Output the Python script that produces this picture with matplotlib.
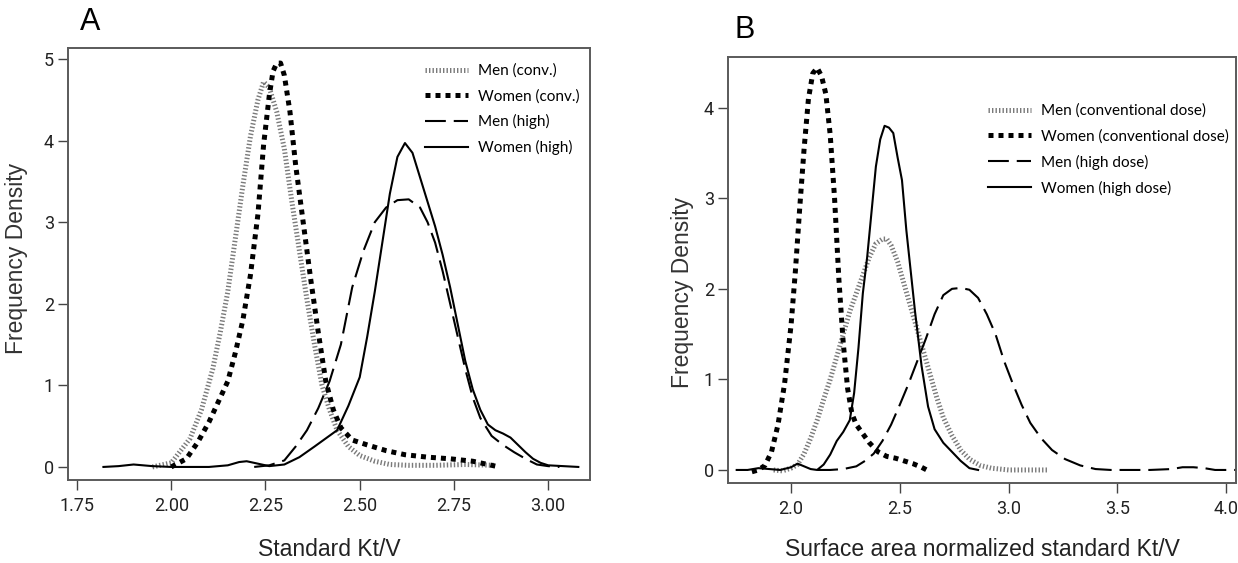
import matplotlib
matplotlib.use("Agg")
import matplotlib.pyplot as plt

# Panneau A : Kt/V standard
men_conv_a_x = [1.95, 2.00, 2.05, 2.08, 2.11, 2.13, 2.15, 2.17, 2.19, 2.21, 2.23, 2.245, 2.26, 2.28, 2.30,
                2.32, 2.34, 2.36, 2.38, 2.40, 2.42, 2.44, 2.47, 2.50, 2.54, 2.58, 2.63, 2.70, 2.78, 2.86]
men_conv_a_y = [0.0, 0.05, 0.35, 0.7, 1.2, 1.65, 2.15, 2.8, 3.45, 4.05, 4.5, 4.72, 4.65, 4.35, 3.9,
                3.25, 2.65, 2.05, 1.5, 1.0, 0.7, 0.45, 0.25, 0.14, 0.07, 0.03, 0.02, 0.02, 0.03, 0.02]

women_conv_a_x = [2.00, 2.04, 2.07, 2.10, 2.13, 2.15, 2.17, 2.19, 2.21, 2.23, 2.245, 2.26, 2.27, 2.28, 2.29,
                  2.30, 2.315, 2.33, 2.35, 2.37, 2.39, 2.41, 2.43, 2.45, 2.48, 2.52, 2.57, 2.62, 2.68, 2.74,
                  2.80, 2.87]
women_conv_a_y = [0.0, 0.1, 0.3, 0.55, 0.85, 1.05, 1.4, 1.8, 2.35, 3.1, 3.95, 4.55, 4.85, 4.95, 4.95,
                  4.8, 4.35, 3.7, 3.0, 2.3, 1.65, 1.05, 0.7, 0.48, 0.33, 0.27, 0.2, 0.15, 0.12, 0.1,
                  0.07, 0.0]

men_high_a_x = [2.22, 2.26, 2.30, 2.33, 2.36, 2.39, 2.42, 2.45, 2.48, 2.51, 2.54, 2.57, 2.60, 2.63, 2.66,
                2.68, 2.70, 2.72, 2.74, 2.76, 2.78, 2.80, 2.82, 2.85, 2.88, 2.91, 2.94, 2.97, 3.00, 3.03]
men_high_a_y = [0.0, 0.02, 0.08, 0.25, 0.45, 0.72, 1.05, 1.5, 2.2, 2.65, 3.0, 3.18, 3.27, 3.28, 3.18,
                3.0, 2.75, 2.4, 2.0, 1.6, 1.2, 0.85, 0.6, 0.38, 0.27, 0.18, 0.1, 0.03, 0.01, 0.0]

women_high_a_x = [1.82, 1.86, 1.90, 1.95, 2.00, 2.05, 2.10, 2.15, 2.18, 2.20, 2.23, 2.26, 2.30, 2.34, 2.38,
                  2.41, 2.44, 2.47, 2.50, 2.52, 2.54, 2.56, 2.58, 2.60, 2.62, 2.64, 2.66, 2.68, 2.70, 2.72,
                  2.74, 2.76, 2.78, 2.80, 2.82, 2.84, 2.86, 2.88, 2.90, 2.92, 2.94, 2.96, 2.98, 3.00, 3.04,
                  3.08]
women_high_a_y = [0.0, 0.01, 0.03, 0.01, 0.0, 0.0, 0.0, 0.02, 0.06, 0.07, 0.04, 0.01, 0.03, 0.12, 0.25,
                  0.35, 0.45, 0.75, 1.1, 1.6, 2.15, 2.75, 3.35, 3.8, 3.97, 3.85, 3.55, 3.25, 2.95, 2.6,
                  2.2, 1.75, 1.3, 0.95, 0.7, 0.52, 0.45, 0.41, 0.36, 0.27, 0.18, 0.1, 0.05, 0.02, 0.01,
                  0.0]

# Panneau B : Kt/V standard normalisé par la surface
men_conv_b_x = [1.92, 1.96, 2.00, 2.03, 2.06, 2.09, 2.12, 2.15, 2.18, 2.21, 2.24, 2.27, 2.30, 2.33, 2.36,
                2.39, 2.42, 2.44, 2.46, 2.49, 2.52, 2.55, 2.58, 2.61, 2.64, 2.67, 2.70, 2.74, 2.78, 2.82,
                2.87, 2.92, 3.00, 3.10, 3.18]
men_conv_b_y = [0.0, -0.01, 0.02, 0.06, 0.18, 0.35, 0.55, 0.78, 1.0, 1.25, 1.5, 1.75, 1.95, 2.15, 2.35,
                2.5, 2.55, 2.55, 2.48, 2.3, 2.05, 1.8, 1.55, 1.3, 1.05, 0.8, 0.58, 0.38, 0.22, 0.12,
                0.05, 0.02, 0.0, 0.0, 0.0]

women_conv_b_x = [1.82, 1.85, 1.88, 1.91, 1.94, 1.97, 2.00, 2.02, 2.04, 2.06, 2.08, 2.10, 2.12, 2.14, 2.16,
                  2.18, 2.20, 2.22, 2.24, 2.26, 2.28, 2.30, 2.33, 2.36, 2.40, 2.44, 2.48, 2.52, 2.56, 2.60,
                  2.64]
women_conv_b_y = [-0.02, 0.0, 0.05, 0.2, 0.5, 0.95, 1.6, 2.2, 2.9, 3.55, 4.1, 4.38, 4.44, 4.35, 4.15,
                  3.7, 3.0, 2.1, 1.4, 0.9, 0.62, 0.5, 0.4, 0.3, 0.2, 0.15, 0.13, 0.1, 0.07, 0.03,
                  -0.02]

men_high_b_x = [2.12, 2.18, 2.24, 2.30, 2.34, 2.38, 2.42, 2.46, 2.50, 2.54, 2.58, 2.62, 2.66, 2.70, 2.74,
                2.78, 2.82, 2.86, 2.90, 2.94, 2.98, 3.02, 3.06, 3.10, 3.15, 3.20, 3.26, 3.33, 3.40, 3.47,
                3.55, 3.65, 3.75, 3.80, 3.85, 3.90, 3.95, 4.00, 4.05]
men_high_b_y = [0.0, 0.0, 0.01, 0.04, 0.1, 0.18, 0.32, 0.5, 0.72, 0.95, 1.2, 1.45, 1.72, 1.93, 2.0,
                2.01, 1.99, 1.9, 1.72, 1.5, 1.2, 0.95, 0.72, 0.52, 0.35, 0.22, 0.12, 0.05, 0.01, 0.0,
                0.0, 0.0, 0.01, 0.03, 0.03, 0.02, 0.0, 0.0, 0.0]

women_high_b_x = [1.75, 1.80, 1.85, 1.90, 1.95, 2.00, 2.03, 2.06, 2.09, 2.12, 2.15, 2.18, 2.21, 2.24, 2.27,
                  2.29, 2.31, 2.33, 2.35, 2.37, 2.39, 2.41, 2.43, 2.45, 2.47, 2.49, 2.51, 2.53, 2.55, 2.57,
                  2.60, 2.63, 2.66, 2.70, 2.74, 2.78, 2.82, 2.86]
women_high_b_y = [0.0, 0.0, 0.02, 0.01, 0.0, 0.03, 0.07, 0.04, 0.01, 0.0, 0.06, 0.17, 0.32, 0.42, 0.55,
                  0.85, 1.35, 1.95, 2.35, 2.85, 3.35, 3.65, 3.8, 3.78, 3.72, 3.45, 3.2, 2.65, 2.2, 1.75,
                  1.15, 0.7, 0.45, 0.3, 0.2, 0.1, 0.02, 0.0]

labels_a = ["Men (conv.)", "Women (conv.)", "Men (high)", "Women (high)"]
labels_b = ["Men (conventional dose)", "Women (conventional dose)", "Men (high dose)", "Women (high dose)"]
xticks_a = [1.75, 2.00, 2.25, 2.50, 2.75, 3.00]
xticks_b = [2.0, 2.5, 3.0, 3.5, 4.0]
yticks_a = [0, 1, 2, 3, 4, 5]
yticks_b = [0, 1, 2, 3, 4]

# styles des courbes
styles = [
    dict(color="#7a7a7a", lw=3.6, ls=(0, (0.28, 0.42))),   # hommes conv. : gris hachuré
    dict(color="black", lw=3.6, ls=(0, (1, 1))),           # femmes conv. : gros points
    dict(color="black", lw=1.5, ls=(0, (10, 3.8))),        # hommes haute dose : tirets
    dict(color="black", lw=1.5, ls="-"),                   # femmes haute dose : plein
]

TICKFONT = ["Roboto", "DejaVu Sans"]
LEGFONT = ["Lato", "DejaVu Sans"]
SANS = ["Liberation Sans", "DejaVu Sans"]

W, H = 1238, 563
fig = plt.figure(figsize=(W / 100, H / 100), dpi=100)
fig.patch.set_facecolor("white")


def px_axes(left, top, right, bottom):
    return fig.add_axes([left / W, 1 - bottom / H, (right - left) / W, (bottom - top) / H])


def style_axes(ax, xticks, yticks, xlim, ylim, fmt):
    ax.set_xlim(*xlim)
    ax.set_ylim(*ylim)
    ax.set_xticks(xticks)
    ax.set_xticklabels([fmt.format(t) for t in xticks])
    ax.set_yticks(yticks)
    for s in ax.spines.values():
        s.set_color("#5a5a5a")
        s.set_linewidth(1.4)
    ax.tick_params(axis="both", direction="out", length=7, width=1.0, color="#444444",
                   labelcolor="#222222", labelsize=13)
    ax.tick_params(axis="x", pad=5)
    ax.tick_params(axis="y", pad=3)
    for lab in ax.get_xticklabels() + ax.get_yticklabels():
        lab.set_family(TICKFONT)


def add_legend(ax, anchor):
    ax.legend(loc="upper left", bbox_to_anchor=anchor, frameon=False,
              prop={"family": LEGFONT, "size": 11}, handlelength=2.8, handletextpad=0.65,
              labelspacing=0.72, borderpad=0, borderaxespad=0)


ax_a = px_axes(68, 48, 590, 480)
series_a = [(men_conv_a_x, men_conv_a_y), (women_conv_a_x, women_conv_a_y),
            (men_high_a_x, men_high_a_y), (women_high_a_x, women_high_a_y)]
for (xs, ys), st, lab in zip(series_a, styles, labels_a):
    ax_a.plot(xs, ys, label=lab, **st)
style_axes(ax_a, xticks_a, yticks_a, (1.726, 3.111), (-0.16, 5.135), "{:.2f}")
add_legend(ax_a, (0.684, 0.964))

ax_b = px_axes(728, 57, 1236, 483)
series_b = [(men_conv_b_x, men_conv_b_y), (women_conv_b_x, women_conv_b_y),
            (men_high_b_x, men_high_b_y), (women_high_b_x, women_high_b_y)]
for (xs, ys), st, lab in zip(series_b, styles, labels_b):
    ax_b.plot(xs, ys, label=lab, **st)
style_axes(ax_b, xticks_b, yticks_b, (1.71, 4.046), (-0.144, 4.56), "{:.1f}")
add_legend(ax_b, (0.512, 0.89))

# titres des axes et lettres des panneaux
fig.text(90 / W, 1 - 22 / H, "A", fontsize=22, family=SANS, ha="center", va="center")
fig.text(745 / W, 1 - 30 / H, "B", fontsize=22, family=SANS, ha="center", va="center")
fig.text(17 / W, 1 - 258 / H, "Frequency Density", fontsize=16.5, family=SANS, color="#333333",
         rotation=90, ha="center", va="center")
fig.text(683 / W, 1 - 292 / H, "Frequency Density", fontsize=16.5, family=SANS, color="#333333",
         rotation=90, ha="center", va="center")
fig.text(329 / W, 1 - 549 / H, "Standard Kt/V", fontsize=16.5, family=SANS, color="#222222",
         ha="center", va="center")
fig.text(982 / W, 1 - 549 / H, "Surface area normalized standard Kt/V", fontsize=16.5, family=SANS,
         color="#222222", ha="center", va="center")

fig.savefig("out.png", dpi=100, facecolor="white")
